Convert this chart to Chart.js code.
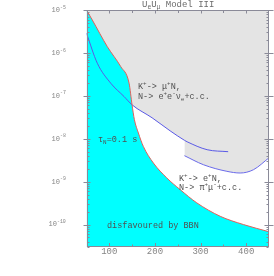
<!DOCTYPE html>
<html>
<head>
<meta charset="utf-8">
<script src="https://cdn.jsdelivr.net/npm/chart.js@4/dist/chart.umd.min.js"></script>
<style>
  html, body { margin: 0; padding: 0; background: #fff; }
  #chart { display: block; }
</style>
</head>
<body>
<canvas id="chart" width="274" height="276"></canvas>
<script>
// heavy neutrino mass (MeV) vs |UeU_mu|

// tau_N = 0.1 s line, BBN disfavoured below it
const bbnMass = [50, 62.7, 95.6, 125, 143.3, 149.8, 155, 163.7, 174.6, 196.6, 226, 255.2, 291.8, 343, 394, 450]
const bbnU2 = [1e-5, 5.85e-6, 1.4e-6, 4.8e-7, 1.97e-7, 6.18e-8, 2.77e-8, 1.36e-8, 6.62e-9, 2.72e-9, 1.22e-9, 6.52e-10, 3.2e-10, 1.56e-10, 1.0e-10, 6.8e-11]

// K+ -> mu+ N, N -> e+ e- nu_e limit
const muMass = [50, 73.7, 103.1, 132.3, 149.8, 193.7, 233.2, 264.6, 270.5, 314.4, 360.5]
const muU2 = [2.87e-6, 5.75e-7, 1.97e-7, 9.63e-8, 6.18e-8, 3.08e-8, 1.53e-8, 9.2e-9, 8.5e-9, 5.55e-9, 4.99e-9]

// K+ -> e+ N, N -> pi+ mu- limit
const eMass = [264.6, 306.3, 357.7, 386.8, 416, 450]
const eU2 = [4.03e-9, 2.48e-9, 1.74e-9, 1.59e-9, 1.9e-9, 3.6e-9]

const xMajor = [100, 200, 300, 400]
const xMinor = [150, 250, 350]
const yDecades = [-5, -6, -7, -8, -9, -10]

const notes = [
  { text: 'K^{+}-> μ^{+}N,', x: 138, y: 87 },
  { text: 'N-> e^{+}e^{-}ν_{e}+c.c.', x: 138, y: 97 },
  { text: 'τ_{N}=0.1 s', x: 98, y: 140 },
  { text: 'K^{+}-> e^{+}N,', x: 179, y: 178.5 },
  { text: 'N-> π^{+}μ^{-}+c.c.', x: 179, y: 187.5 },
  { text: 'disfavoured by BBN', x: 107, y: 225.5 }
]

const mono = '"Liberation Mono", "DejaVu Sans Mono", monospace'

function pts(xs, ys) {
  return xs.map((x, i) => ({ x: x, y: ys[i] }))
}

// text with ^{sup} and _{sub} pieces, left aligned, vertically centred on y
function richText(ctx, str, x, y, size, color) {
  const parts = str.match(/\^\{[^}]*\}|_\{[^}]*\}|[^\^_]+/g)
  ctx.fillStyle = color
  ctx.textBaseline = 'middle'
  ctx.textAlign = 'left'
  for (const p of parts) {
    let t = p, s = size, dy = 0
    if (p[0] === '^') { t = p.slice(2, -1); s = size * 0.7; dy = -size * 0.38 }
    if (p[0] === '_') { t = p.slice(2, -1); s = size * 0.7; dy = size * 0.3 }
    ctx.font = s + 'px ' + mono
    ctx.fillText(t, x, y + dy)
    x += ctx.measureText(t).width
  }
}

const framePlugin = {
  id: 'frame',
  afterDraw(chart) {
    const ctx = chart.ctx
    const a = chart.chartArea
    const xs = chart.scales.x
    const ys = chart.scales.y
    const L = Math.round(a.left) + 0.5, R = Math.round(a.right) - 0.5
    const T = Math.round(a.top) + 0.5, B = Math.round(a.bottom) - 0.5
    ctx.save()

    ctx.strokeStyle = '#8a8a98'
    ctx.lineWidth = 1
    ctx.strokeRect(L, T, R - L, B - T)

    ctx.beginPath()
    for (const e of yDecades) {
      const py = Math.round(ys.getPixelForValue(Math.pow(10, e))) + 0.5
      ctx.moveTo(L - 4, py); ctx.lineTo(L + 3, py)
      ctx.moveTo(R - 4, py); ctx.lineTo(R + 5, py)
    }
    for (let e = -11; e < -5; e++) {
      for (let m = 2; m < 10; m++) {
        const v = m * Math.pow(10, e)
        if (v < ys.min || v > ys.max) continue
        const py = Math.round(ys.getPixelForValue(v)) + 0.5
        ctx.moveTo(L, py); ctx.lineTo(L + 2, py)
        ctx.moveTo(R - 2, py); ctx.lineTo(R, py)
      }
    }
    for (const v of xMajor) {
      const px = Math.round(xs.getPixelForValue(v)) + 0.5
      ctx.moveTo(px, B); ctx.lineTo(px, B - 3.5)
      ctx.moveTo(px, T); ctx.lineTo(px, T + 3)
    }
    for (const v of xMinor) {
      const px = Math.round(xs.getPixelForValue(v)) + 0.5
      ctx.moveTo(px, B); ctx.lineTo(px, B - 2)
      ctx.moveTo(px, T); ctx.lineTo(px, T + 2.5)
    }
    ctx.stroke()

    // y labels 10^-n
    for (const e of yDecades) {
      const py = ys.getPixelForValue(Math.pow(10, e))
      ctx.font = '5px ' + mono
      const sup = String(e)
      const wSup = ctx.measureText(sup).width
      ctx.font = '7px ' + mono
      const wBase = ctx.measureText('10').width
      const x0 = 66 - wSup - wBase
      richText(ctx, '10^{' + sup + '}', x0, py, 7, '#858585')
    }

    // x labels
    ctx.font = '9px ' + mono
    ctx.fillStyle = '#858585'
    ctx.textAlign = 'center'
    ctx.textBaseline = 'middle'
    for (const v of xMajor) {
      ctx.fillText(String(v), xs.getPixelForValue(v), 252)
    }

    // title
    richText(ctx, 'U_{e}U_{μ} Model III', 142, 4.5, 9, '#6a6a6a')

    for (const n of notes) richText(ctx, n.text, n.x, n.y, 8.5, '#505050')
    ctx.restore()
  }
}

new Chart(document.getElementById('chart'), {
  type: 'line',
  data: {
    datasets: [
      {
        label: 'tau_N = 0.1 s',
        data: pts(bbnMass, bbnU2),
        borderColor: '#e0605a',
        borderWidth: 1,
        backgroundColor: '#00ffff',
        fill: 'start',
        pointRadius: 0,
        cubicInterpolationMode: 'monotone'
      },
      {
        label: 'K -> mu N',
        data: pts(muMass, muU2),
        borderColor: '#5a5ae6',
        borderWidth: 1,
        backgroundColor: '#e4e4e4',
        fill: 'end',
        pointRadius: 0,
        cubicInterpolationMode: 'monotone'
      },
      {
        label: 'K -> e N',
        data: pts(eMass, eU2),
        borderColor: '#6a6aea',
        borderWidth: 1,
        backgroundColor: '#e4e4e4',
        fill: 'end',
        pointRadius: 0,
        cubicInterpolationMode: 'monotone'
      }
    ]
  },
  options: {
    responsive: false,
    animation: false,
    layout: { padding: { top: 10, right: 5, left: 0, bottom: 0 } },
    plugins: {
      legend: { display: false },
      tooltip: { enabled: false },
      filler: { drawTime: 'beforeDatasetsDraw' }
    },
    scales: {
      x: {
        type: 'linear',
        min: 50,
        max: 450,
        ticks: { display: false },
        grid: { display: false },
        border: { display: false },
        afterFit: s => { s.height = 29 }
      },
      y: {
        type: 'logarithmic',
        min: 3e-11,
        max: 1e-5,
        ticks: { display: false },
        grid: { display: false },
        border: { display: false },
        afterFit: s => { s.width = 86.5 }
      }
    }
  },
  plugins: [framePlugin]
})
</script>
</body>
</html>
